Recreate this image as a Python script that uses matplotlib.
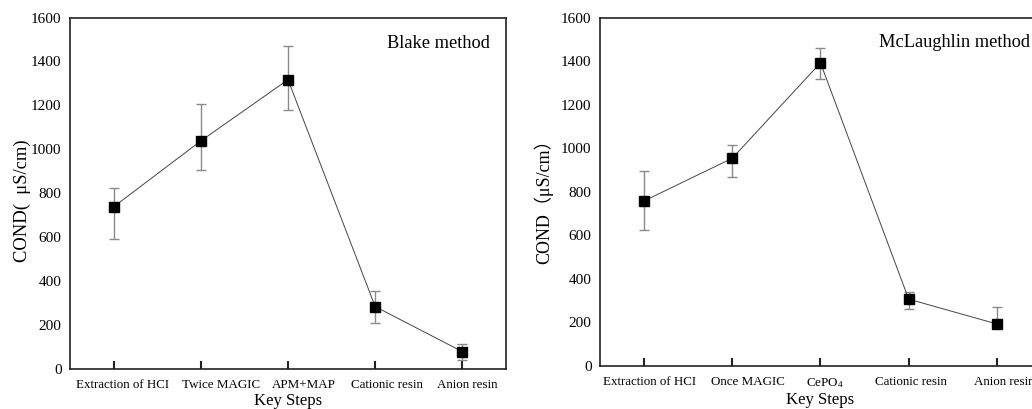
import matplotlib
matplotlib.use("Agg")
import matplotlib.pyplot as plt
import numpy as np

plt.rcParams['font.family'] = ['Liberation Serif', 'Noto Sans CJK SC', 'DejaVu Serif']
plt.rcParams['mathtext.fontset'] = 'custom'
plt.rcParams['mathtext.rm'] = 'Liberation Serif'
plt.rcParams['mathtext.it'] = 'Liberation Serif:italic'

# Blake method
blake_steps = ["Extraction of HCI", "Twice MAGIC", "APM+MAP", "Cationic resin", "Anion resin"]
blake_vals = [738, 1038, 1317, 284, 79]
blake_err_lo = [148, 134, 137, 75, 38]
blake_err_hi = [86, 168, 152, 69, 36]

# McLaughlin method
mcl_steps = ["Extraction of HCI", "Once MAGIC", "CePO$_4$", "Cationic resin", "Anion resin"]
mcl_vals = [758, 954, 1392, 307, 193]
mcl_err_lo = [132, 87, 73, 43, 15]
mcl_err_hi = [136, 60, 70, 32, 78]

yticks = [0, 200, 400, 600, 800, 1000, 1200, 1400, 1600]

fig = plt.figure(figsize=(10.32, 4.09), dpi=100)
ax1 = fig.add_axes([0.0678, 0.0978, 0.4225, 0.8594])
ax2 = fig.add_axes([0.5814, 0.1051, 0.4273, 0.852])

def draw(ax, steps, vals, lo, hi, title, title_x, ylabel, ylsize, labx, laby, lab_shift):
    x = np.arange(len(steps))
    ax.errorbar(x, vals, yerr=[lo, hi], fmt='none', ecolor='#8a8a8a',
                elinewidth=1.0, capsize=3.5, capthick=1.0, zorder=2)
    ax.plot(x, vals, color='#444444', lw=0.7, marker='s', markersize=6.5,
            markerfacecolor='black', markeredgecolor='black', zorder=3)
    ax.set_xlim(-0.5, 4.5)
    ax.set_ylim(0, 1600)
    ax.set_yticks(yticks)
    ax.set_xticks(x)
    ax.set_xticklabels([])
    ax.set_xticks(x + np.array(lab_shift), minor=True)
    ax.set_xticklabels(steps, minor=True, fontsize=9.4)
    ax.tick_params(axis='x', which='major', direction='in', length=6, width=1.5, color='#222222')
    ax.tick_params(axis='x', which='minor', length=0, pad=7)
    ax.tick_params(axis='y', length=0, pad=6, labelsize=11)
    for s in ax.spines.values():
        s.set_linewidth(1.2)
        s.set_color('#222222')
    ax.set_xlabel("Key Steps", fontsize=12, labelpad=2)
    ax.set_ylabel(ylabel, fontsize=ylsize)
    ax.yaxis.set_label_coords(labx, laby)
    ax.text(title_x, 0.927, title,
            transform=ax.transAxes, ha='center', va='center', fontsize=13.2)

draw(ax1, blake_steps, blake_vals, blake_err_lo, blake_err_hi,
     "Blake method", 0.846, "COND(  μS/cm)", 13.4, -0.090, 0.478,
     [0.10, 0.23, 0.18, 0.14, 0.06])
draw(ax2, mcl_steps, mcl_vals, mcl_err_lo, mcl_err_hi,
     "McLaughlin method", 0.803, "COND（μS/cm）", 13, -0.105, 0.485,
     [0.06, 0.18, 0.05, 0.03, 0.08])

fig.savefig("out.png", dpi=100)
